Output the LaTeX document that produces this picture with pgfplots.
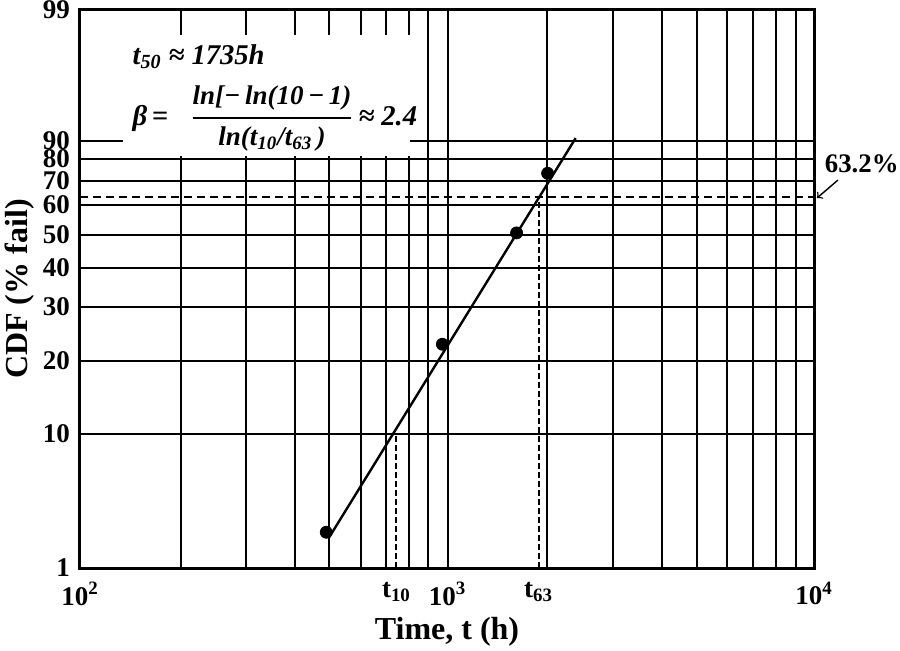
\documentclass[border=0pt]{standalone}
\usepackage{fontspec}
\setmainfont{Liberation Serif}
\usepackage{amsmath}
\usepackage{pgfplots}
\pgfplotsset{compat=1.18}

% hand drawn probability paper: CDF (%) -> height on the sheet
\pgfmathdeclarefunction{cdfpos}{1}{%
  \begingroup
  \pgfmathparse{#1<10 ? (#1-1)*14.889 :
    (#1<20 ? 134+(#1-10)*7.3 :
    (#1<30 ? 207+(#1-20)*5.4 :
    (#1<40 ? 261+(#1-30)*3.9 :
    (#1<50 ? 300+(#1-40)*3.3 :
    (#1<60 ? 333+(#1-50)*3.0 :
    (#1<70 ? 363+(#1-60)*2.4 :
    (#1<80 ? 387+(#1-70)*2.2 :
    (#1<90 ? 409+(#1-80)*1.8 : 427+(#1-90)*14.556))))))))}%
  \pgfmathsmuggle\pgfmathresult
  \endgroup}

% the time axis of the sheet is only roughly logarithmic
\pgfmathdeclarefunction{timepos}{1}{%
  \begingroup
  \pgfmathparse{#1<200 ? 145.71*ln(#1/100) :
    (#1<300 ? 101+160.31*ln(#1/200) :
    (#1<400 ? 166+170.33*ln(#1/300) :
    (#1<500 ? 215+152.37*ln(#1/400) :
    (#1<600 ? 249+175.51*ln(#1/500) :
    (#1<700 ? 281+162.18*ln(#1/600) :
    (#1<800 ? 306+172.24*ln(#1/700) :
    (#1<900 ? 329+161.31*ln(#1/800) :
    (#1<1000 ? 348+180.33*ln(#1/900) :
    (#1<2000 ? 367+142.83*ln(#1/1000) :
    (#1<3000 ? 466+162.78*ln(#1/2000) :
    (#1<4000 ? 532+170.33*ln(#1/3000) :
    (#1<5000 ? 581+156.85*ln(#1/4000) :
    (#1<6000 ? 616+164.54*ln(#1/5000) :
    (#1<7000 ? 646+168.67*ln(#1/6000) :
    (#1<8000 ? 672+172.24*ln(#1/7000) :
    (#1<9000 ? 695+169.80*ln(#1/8000) : 715+170.84*ln(#1/9000))))))))))))))))))}%
  \pgfmathsmuggle\pgfmathresult
  \endgroup}

\begin{document}
\begin{tikzpicture}[font=\bfseries]
\begin{axis}[
    width=367pt, height=279pt, scale only axis,
    xmin=100, xmax=10000,
    ymin=1, ymax=99,
    x coord trafo/.code={\pgfmathparse{timepos(#1)}},
    y coord trafo/.code={\pgfmathparse{cdfpos(#1)}},
    xtick={100,1000,10000},
    xticklabels={10\textsuperscript{2},10\textsuperscript{3},10\textsuperscript{4}},
    minor xtick={200,300,400,500,600,700,800,900,2000,3000,4000,5000,6000,7000,8000,9000},
    extra x ticks={742,1891},
    extra x tick labels={t\textsubscript{10},t\textsubscript{63}},
    extra x tick style={grid=none},
    ytick={1,10,20,30,40,50,60,70,80,90,99},
    yticklabels={1,10,20,30,40,50,60,70,80,\raisebox{-2.5pt}{90},99},
    grid=both,
    major grid style={black, line width=1pt},
    minor grid style={black, line width=1pt},
    tick style={draw=none},
    axis line style={line width=1.5pt},
    tick label style={font=\fontsize{13.5}{14}\selectfont\bfseries},
    xticklabel style={yshift=-3.5pt},
    yticklabel style={xshift=-1.5pt},
    xlabel={Time, t (h)},
    ylabel={CDF (\% fail)},
    label style={font=\fontsize{16}{18}\selectfont\bfseries},
    xlabel style={at={(rel axis cs:0.5,-0.115)}, anchor=center},
    ylabel style={at={(rel axis cs:-0.082,0.5)}, anchor=center},
    clip=false,
]
% white panel for the formulas
\fill[white] (rel axis cs:0.0586,0.7375) rectangle (rel axis cs:0.4496,0.955);
\node[anchor=base west, font=\fontsize{14.3}{16}\selectfont\bfseries\itshape]
    at (rel axis cs:0.062,0.903) {t\textsubscript{50} ≈ 1735h};
\node[anchor=west, font=\fontsize{14.3}{16}\selectfont\bfseries\itshape]
    at (rel axis cs:0.062,0.806)
    {β\,=\hspace{11pt}$\genfrac{}{}{1.2pt}{0}%
      {\text{\fontsize{13.5}{15}\selectfont ln[−\,ln(10\,−\,1)}}%
      {\text{\fontsize{13.5}{15}\selectfont ln(t\textsubscript{10}/t\textsubscript{63}\,)}}$\,≈ 2.4};

% 63.2% level and the two read-off times
\addplot[black, line width=1pt, dash pattern=on 4pt off 2.5pt] coordinates {(100,63.2) (10000,63.2)};
\addplot[black, line width=1pt, dash pattern=on 3pt off 1.5pt] coordinates {(742,1) (742,10)};
\addplot[black, line width=1pt, dash pattern=on 3pt off 1.5pt] coordinates {(1891,1) (1891,63.2)};

% fitted line and failure data
\addplot[black, line width=1.2pt] coordinates {(500,3.08) (2390,90.2)};
\addplot[only marks, mark=*, mark size=3pt, black] coordinates {
    (490,3.4) (972,23.1) (1621,50.7) (2012,73.5)};

\node[font=\fontsize{13.4}{15}\selectfont\bfseries] at (rel axis cs:1.065,0.724) {63.2\%};
\draw[->, line width=0.7pt] (rel axis cs:1.0327,0.6953) -- (rel axis cs:1.0041,0.6631);
\coordinate (O) at (rel axis cs:0,0);
\end{axis}
\pgfresetboundingbox
\path (O) ++(-40pt,-41pt) rectangle ++(450pt,325pt);
\end{tikzpicture}
\end{document}
